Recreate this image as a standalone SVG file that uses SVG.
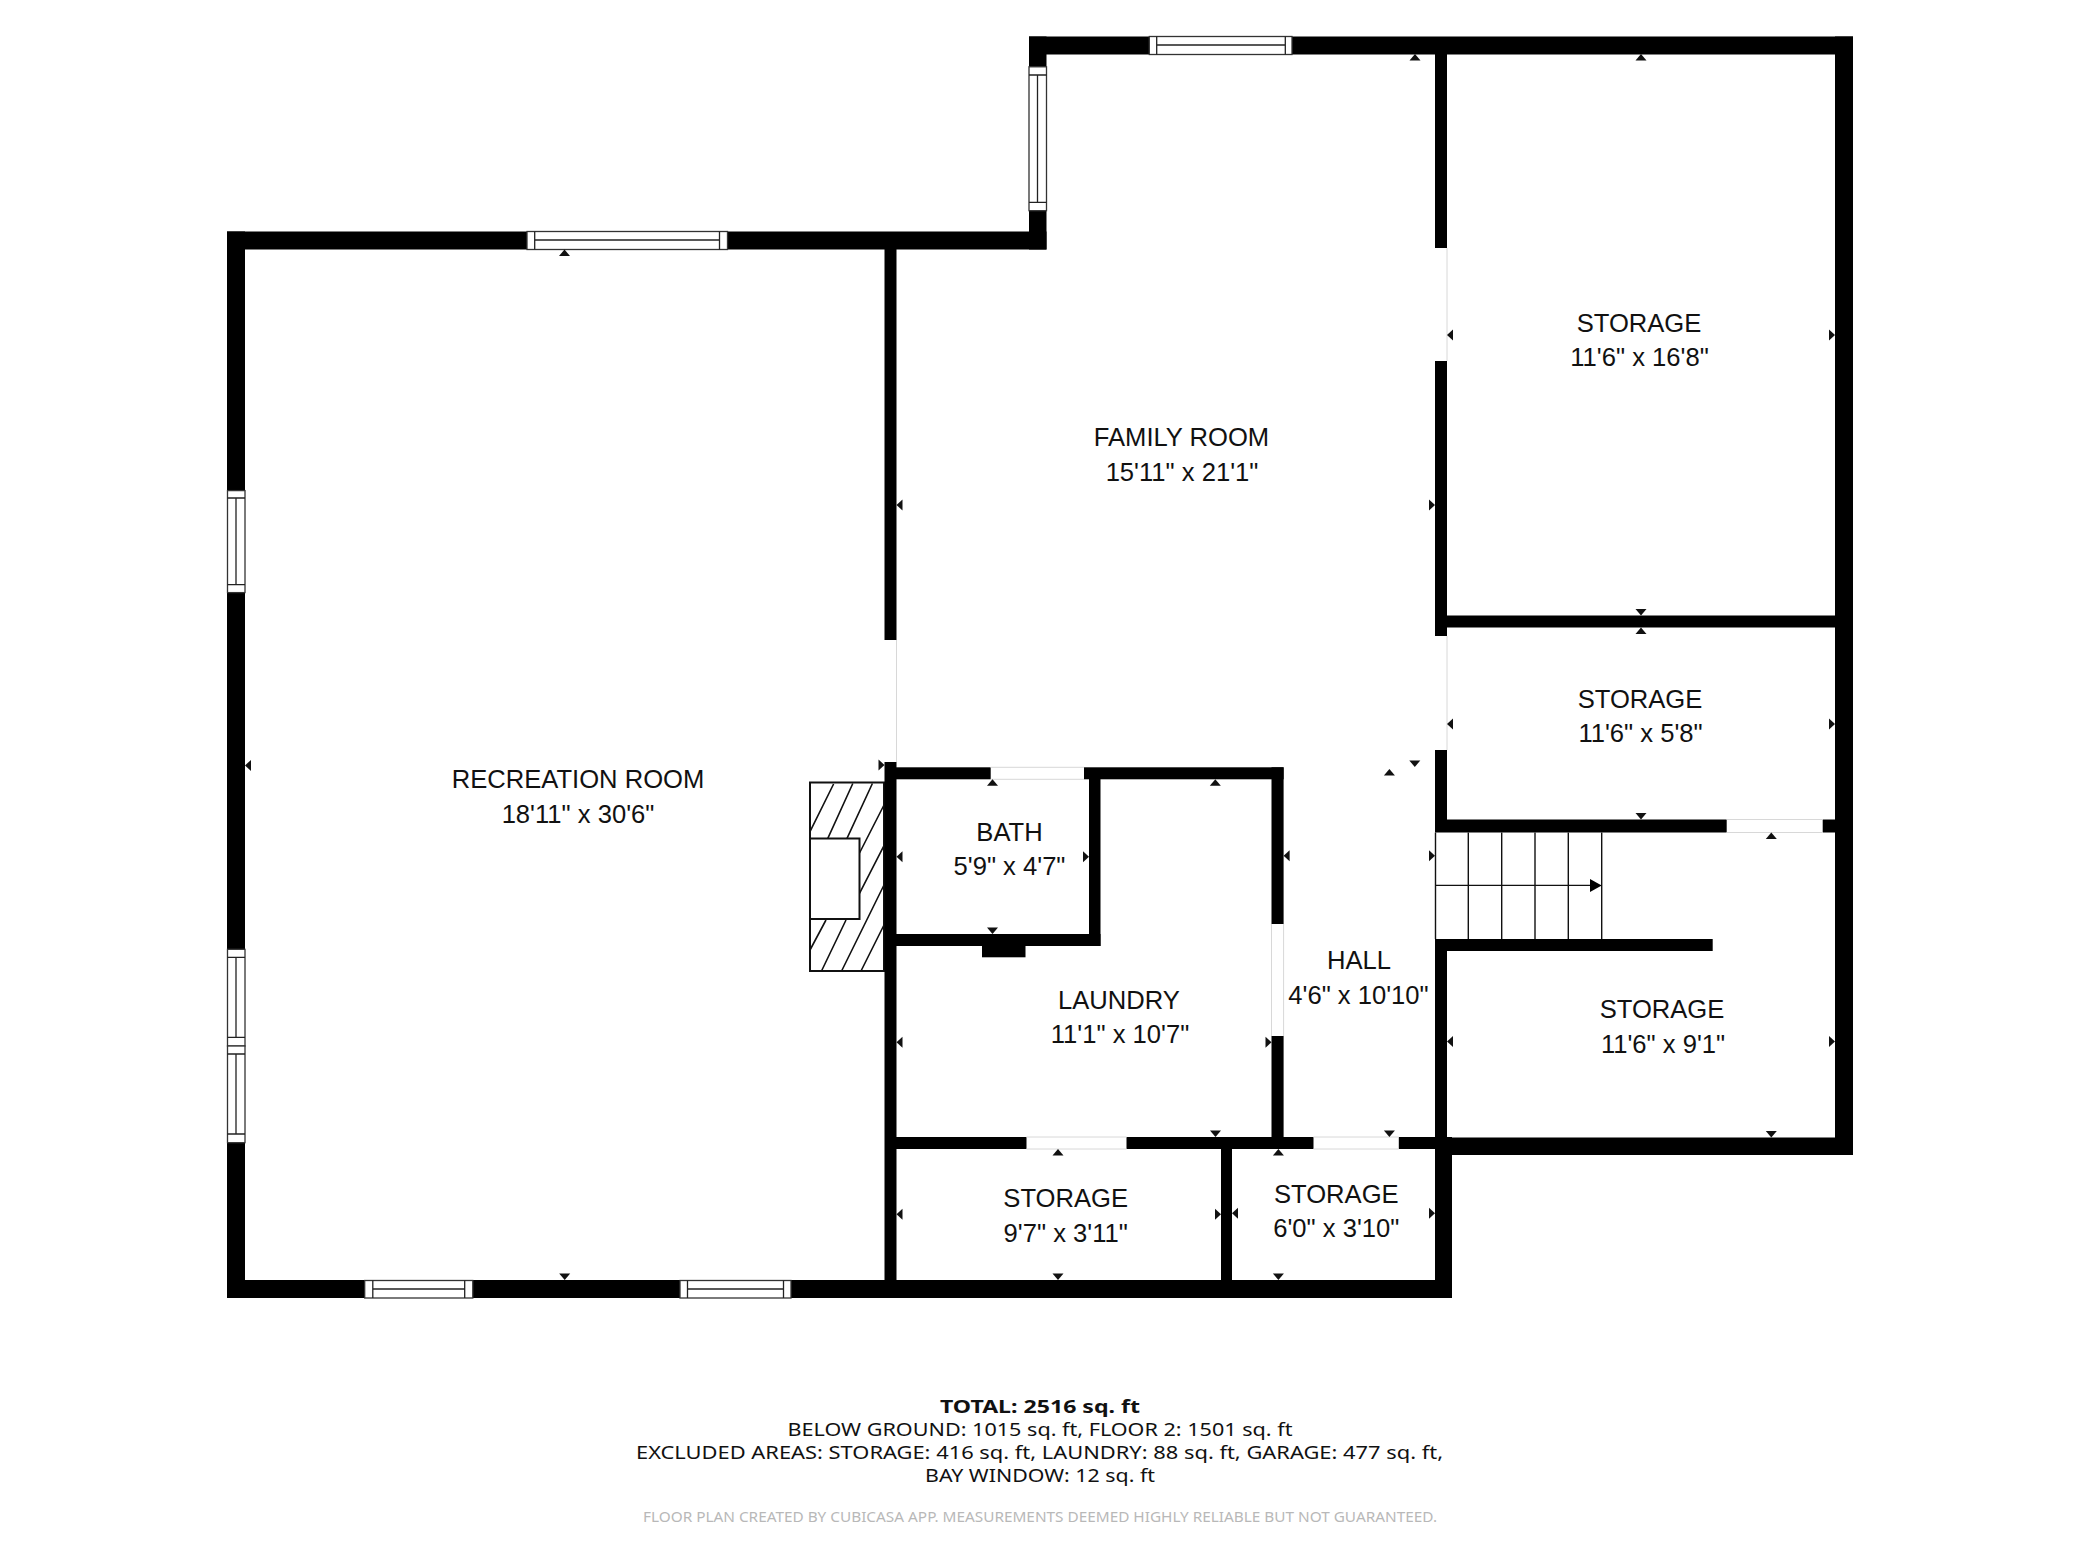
<svg xmlns="http://www.w3.org/2000/svg" xmlns:xlink="http://www.w3.org/1999/xlink" width="2080" height="1560" viewBox="0 0 2080 1560">
<style>
.w{fill:#000}
.win{fill:#fff;stroke:#333;stroke-width:1.3}
.wl{stroke:#222;stroke-width:1.3;fill:none}
.door{stroke:#d8d8d8;stroke-width:1;fill:none}
.r{font-family:"Liberation Sans",Arial,sans-serif;font-size:25.6px;text-anchor:middle;fill:#111}
.f{font-family:"Noto Sans","DejaVu Sans",sans-serif;font-size:18px;text-anchor:middle;fill:#111}
.h{stroke:#111;stroke-width:1.6;fill:none}
.s{stroke:#111;stroke-width:1.4;fill:none}
</style>
<defs>
<path id="u" d="M0 0L5.5 6.5H-5.5Z" fill="#111"/>
<path id="d" d="M0 0L5.5 -6.5H-5.5Z" fill="#111"/>
<path id="l" d="M0 0L6 -5.5V5.5Z" fill="#111"/>
<path id="t" d="M0 0L-6 -5.5V5.5Z" fill="#111"/>
</defs>
<rect width="2080" height="1560" fill="#fff"/>
<g id="fireplace">
<rect x="810" y="782.5" width="74" height="188.5" fill="#fff" stroke="#111" stroke-width="2"/>
<path class="h" d="M833.6 784L810 831.7M852.8 783.5L827.8 838.3M872.4 783.5L847 838.3M884 805L859.5 853M884 845.7L859.5 893.3M884 885L841.6 971M884 925L861 971M846 920L821.5 971M826 920L810 950"/>
<rect x="810" y="838.5" width="49.5" height="80.5" fill="#fff" stroke="#111" stroke-width="2"/>
</g>
<g id="walls">
<rect class="w" x="1029" y="36.5" width="824" height="18"/>
<rect class="w" x="1029" y="36.5" width="17.5" height="213"/>
<rect class="w" x="227" y="231.5" width="819.5" height="18"/>
<rect class="w" x="227" y="231.5" width="18" height="1066.5"/>
<rect class="w" x="227" y="1280" width="1225" height="18"/>
<rect class="w" x="1835" y="36.5" width="18" height="1118.5"/>
<rect class="w" x="884.5" y="249" width="12" height="391"/>
<rect class="w" x="884.5" y="762" width="12" height="520"/>
<rect class="w" x="1435" y="54" width="12" height="194"/>
<rect class="w" x="1435" y="361" width="12" height="275"/>
<rect class="w" x="1435" y="750" width="12" height="82"/>
<rect class="w" x="1435" y="939" width="12" height="200"/>
<rect class="w" x="1435" y="1137" width="17" height="161"/>
<rect class="w" x="1447" y="615.5" width="388" height="12"/>
<rect class="w" x="1435" y="819.5" width="291.7" height="13"/>
<rect class="w" x="1822.7" y="819.5" width="13" height="13"/>
<rect class="w" x="1435" y="939" width="277.7" height="12"/>
<rect class="w" x="1446" y="1137.5" width="407" height="17.5"/>
<rect class="w" x="896" y="1137" width="130.5" height="12"/>
<rect class="w" x="1126.5" y="1137" width="187" height="12"/>
<rect class="w" x="1398.8" y="1137" width="48" height="12"/>
<rect class="w" x="1221" y="1149" width="11" height="132"/>
<rect class="w" x="896" y="767.3" width="94.7" height="12"/>
<rect class="w" x="1084" y="767.3" width="199.6" height="12"/>
<rect class="w" x="1089" y="779" width="11.5" height="167"/>
<rect class="w" x="896" y="934" width="204.5" height="12"/>
<rect class="w" x="982" y="946" width="43.5" height="11.3"/>
<rect class="w" x="1271.5" y="767.3" width="12.1" height="156.7"/>
<rect class="w" x="1271.5" y="1036" width="12.1" height="102"/>
</g>
<g id="doors">
<path class="door" d="M896.5 640V762M1447 248V361M1447 636V750M1271.5 924V1036M1283.6 924V1036M990.7 767.3H1084M990.7 779.3H1084M1726.7 819.5H1822.7M1726.7 832.5H1822.7M1026.5 1137H1126.5M1026.5 1149H1126.5M1313.5 1137H1398.8M1313.5 1149H1398.8"/>
</g>
<g id="windows">
<rect class="win" x="527" y="231.5" width="200.5" height="18"/><path class="wl" d="M534.7 231.5V249.5M719.5 231.5V249.5M534.7 240H719.5"/>
<rect class="win" x="1149.3" y="36.5" width="142.7" height="18"/><path class="wl" d="M1156.7 36.5V54.5M1285.3 36.5V54.5M1156.7 45H1285.3"/>
<rect class="win" x="1029" y="66.8" width="17.5" height="143.9"/><path class="wl" d="M1029 75H1046.5M1029 202.4H1046.5M1037.5 75V202.4"/>
<rect class="win" x="227.5" y="490.6" width="17.5" height="102"/><path class="wl" d="M227.5 498H245M227.5 584.7H245M236 498V584.7"/>
<rect class="win" x="227.5" y="949.3" width="17.5" height="96.7"/><path class="wl" d="M227.5 957.3H245M227.5 1037.3H245M236 957.3V1037.3"/>
<rect class="win" x="227.5" y="1046" width="17.5" height="96.7"/><path class="wl" d="M227.5 1054H245M227.5 1134H245M236 1054V1134"/>
<rect class="win" x="364.7" y="1280.5" width="108.1" height="17.5"/><path class="wl" d="M372.8 1280.5V1298M464.7 1280.5V1298M372.8 1289H464.7"/>
<rect class="win" x="680" y="1280.5" width="111" height="17.5"/><path class="wl" d="M687.5 1280.5V1298M783.5 1280.5V1298M687.5 1289H783.5"/>
</g>
<g id="stairs">
<path class="s" d="M1435.5 832.5V939M1468.3 832.5V939M1501.7 832.5V939M1535 832.5V939M1568.3 832.5V939M1601.7 832.5V939M1435 885.4H1592"/>
<path d="M1590 879L1601.7 885.4L1590 892Z" fill="#000"/>
</g>
<g id="dimension-marks">
<use xlink:href="#u" x="564.5" y="249.5"/><use xlink:href="#u" x="1415" y="54"/><use xlink:href="#u" x="1641" y="54"/><use xlink:href="#u" x="1641" y="627.5"/><use xlink:href="#u" x="1771.3" y="832.5"/><use xlink:href="#u" x="992.5" y="779.3"/><use xlink:href="#u" x="1215.3" y="779.3"/><use xlink:href="#u" x="1389.4" y="769"/><use xlink:href="#u" x="1058" y="1149"/><use xlink:href="#u" x="1278.4" y="1149"/>
<use xlink:href="#d" x="1414.8" y="767"/><use xlink:href="#d" x="1641" y="615.5"/><use xlink:href="#d" x="1641" y="819.5"/><use xlink:href="#d" x="992.5" y="934"/><use xlink:href="#d" x="1215.5" y="1137"/><use xlink:href="#d" x="1389.4" y="1137"/><use xlink:href="#d" x="1771.3" y="1137.5"/><use xlink:href="#d" x="564.7" y="1280"/><use xlink:href="#d" x="1058" y="1280"/><use xlink:href="#d" x="1278.4" y="1280"/>
<use xlink:href="#l" x="245" y="765.4"/><use xlink:href="#l" x="896.5" y="505"/><use xlink:href="#l" x="896.5" y="856.7"/><use xlink:href="#l" x="896.5" y="1042.3"/><use xlink:href="#l" x="1283.6" y="855.7"/><use xlink:href="#l" x="1447" y="1041.5"/><use xlink:href="#l" x="1447" y="335"/><use xlink:href="#l" x="1447" y="724"/><use xlink:href="#l" x="896.5" y="1214.3"/><use xlink:href="#l" x="1232" y="1213.3"/>
<use xlink:href="#t" x="884.5" y="765"/><use xlink:href="#t" x="1435" y="505"/><use xlink:href="#t" x="1089" y="856.7"/><use xlink:href="#t" x="1271.5" y="1042.3"/><use xlink:href="#t" x="1435" y="855.7"/><use xlink:href="#t" x="1835" y="335"/><use xlink:href="#t" x="1835" y="724"/><use xlink:href="#t" x="1835" y="1041.5"/><use xlink:href="#t" x="1221" y="1214.3"/><use xlink:href="#t" x="1435" y="1213.3"/>
</g>
<g id="recreation-room"><text class="r" x="578" y="787.5">RECREATION ROOM</text><text class="r" x="578" y="823">18'11" x 30'6"</text></g>
<g id="family-room"><text class="r" x="1181.5" y="446">FAMILY ROOM</text><text class="r" x="1182" y="481">15'11" x 21'1"</text></g>
<g id="storage-a"><text class="r" x="1639" y="331.8">STORAGE</text><text class="r" x="1639.5" y="366">11'6" x 16'8"</text></g>
<g id="storage-b"><text class="r" x="1640" y="707.5">STORAGE</text><text class="r" x="1640.5" y="742">11'6" x 5'8"</text></g>
<g id="storage-c"><text class="r" x="1662" y="1018">STORAGE</text><text class="r" x="1663" y="1053">11'6" x 9'1"</text></g>
<g id="bath"><text class="r" x="1009.5" y="840.7">BATH</text><text class="r" x="1009.5" y="875">5'9" x 4'7"</text></g>
<g id="laundry"><text class="r" x="1119" y="1008.7">LAUNDRY</text><text class="r" x="1120" y="1043">11'1" x 10'7"</text></g>
<g id="hall"><text class="r" x="1359" y="968.5">HALL</text><text class="r" x="1358.5" y="1003.5">4'6" x 10'10"</text></g>
<g id="storage-d"><text class="r" x="1065.7" y="1207.3">STORAGE</text><text class="r" x="1065.7" y="1242.3">9'7" x 3'11"</text></g>
<g id="storage-e"><text class="r" x="1336.3" y="1202.7">STORAGE</text><text class="r" x="1336.3" y="1237.3">6'0" x 3'10"</text></g>
<g id="summary">
<text class="f" x="1040" y="1412.7" font-weight="700" textLength="200" lengthAdjust="spacingAndGlyphs">TOTAL: 2516 sq. ft</text>
<text class="f" x="1040" y="1435.7" textLength="505" lengthAdjust="spacingAndGlyphs">BELOW GROUND: 1015 sq. ft, FLOOR 2: 1501 sq. ft</text>
<text class="f" x="1039.5" y="1458.7" textLength="807" lengthAdjust="spacingAndGlyphs">EXCLUDED AREAS: STORAGE: 416 sq. ft, LAUNDRY: 88 sq. ft, GARAGE: 477 sq. ft,</text>
<text class="f" x="1040" y="1481.7" textLength="230" lengthAdjust="spacingAndGlyphs">BAY WINDOW: 12 sq. ft</text>
<text class="f" x="1040" y="1521.7" style="font-size:15px;fill:#b8b8b8" textLength="794" lengthAdjust="spacingAndGlyphs">FLOOR PLAN CREATED BY CUBICASA APP. MEASUREMENTS DEEMED HIGHLY RELIABLE BUT NOT GUARANTEED.</text>
</g>
</svg>
